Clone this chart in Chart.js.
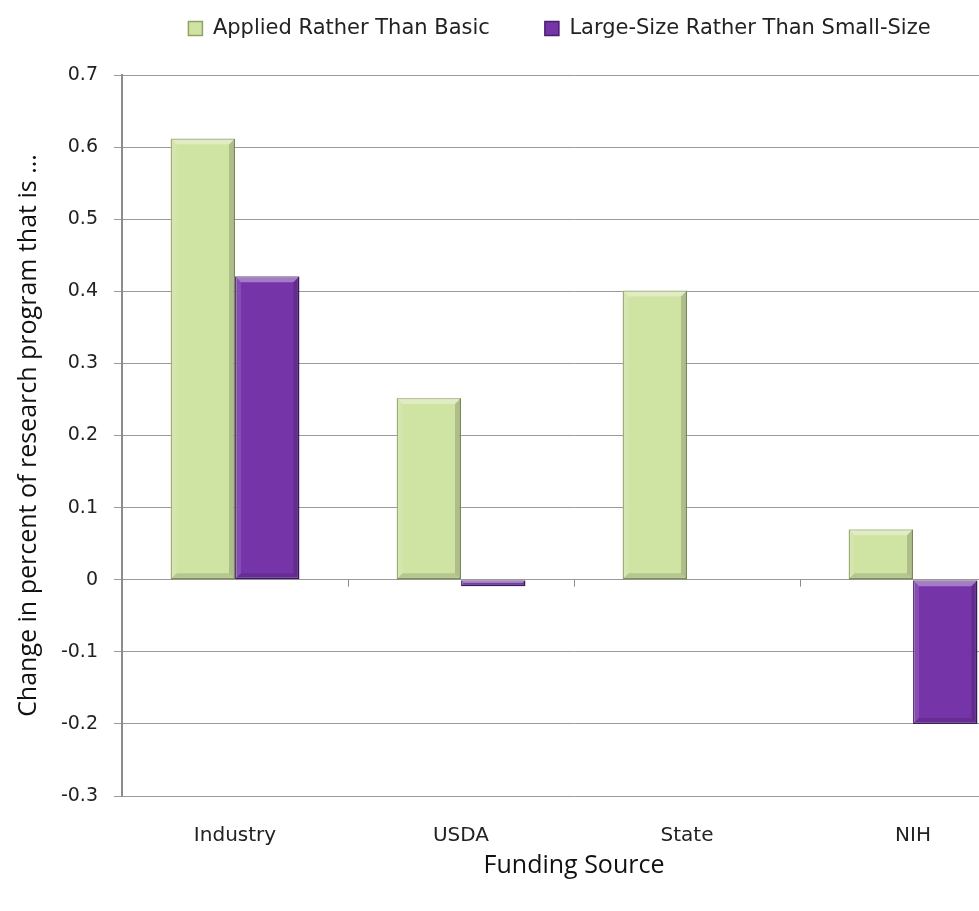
<!DOCTYPE html>
<html>
<head>
<meta charset="utf-8">
<script src="https://cdn.jsdelivr.net/npm/chart.js@4/dist/chart.umd.min.js"></script>
<style>
html,body{margin:0;padding:0;background:#fff;overflow:hidden;width:979px;height:911px;}
#wrap{position:absolute;left:0;top:-37px;width:1111px;height:948px;}
</style>
</head>
<body>
<div id="wrap"><canvas id="c"></canvas></div>
<script>
const categories = ["Industry", "USDA", "State", "NIH"];
const appliedRatherThanBasic = [0.612, 0.252, 0.401, 0.07];
const largeRatherThanSmall = [0.421, -0.009, null, -0.2];
const yTickValues = [0.7, 0.6, 0.5, 0.4, 0.3, 0.2, 0.1, 0, -0.1, -0.2, -0.3];
const yTickLabels = ["0.7", "0.6", "0.5", "0.4", "0.3", "0.2", "0.1", "0", "-0.1", "-0.2", "-0.3"];

const tickFont = "'DejaVu Sans',sans-serif";
const titleFont = "'Open Sans','Noto Sans',sans-serif";

const legendGap = {
  id: 'legendGap',
  beforeInit(chart) {
    const lg = chart.legend;
    if (!lg) return;
    const orig = lg.fit;
    lg.fit = function () { orig.call(this); this.height += 26; };
  }
};

const zeroTicks = {
  id: 'zeroTicks',
  afterDatasetsDraw(chart) {
    const x = chart.scales.x, y = chart.scales.y, ctx = chart.ctx;
    const y0 = y.getPixelForValue(0);
    ctx.save();
    ctx.strokeStyle = '#8c8c8c';
    ctx.lineWidth = 1;
    for (let i = 1; i < categories.length; i++) {
      const px = Math.round((x.getPixelForValue(i - 1) + x.getPixelForValue(i)) / 2) + 0.5;
      ctx.beginPath();
      ctx.moveTo(px, y0);
      ctx.lineTo(px, y0 + 7);
      ctx.stroke();
    }
    ctx.restore();
  }
};

// Excel-like bevel on each bar, derived from the bar elements
const bevel = {
  id: 'bevel',
  afterDatasetsDraw(chart) {
    const ctx = chart.ctx;
    chart.data.datasets.forEach((ds, di) => {
      const meta = chart.getDatasetMeta(di);
      meta.data.forEach((el, i) => {
        if (ds.data[i] === null || ds.data[i] === undefined) return;
        const p = el.getProps(['x', 'y', 'base', 'width'], true);
        const l = p.x - p.width / 2, r = p.x + p.width / 2;
        const t = Math.min(p.y, p.base), b = Math.max(p.y, p.base);
        const h = b - t;
        const d = Math.min(6, h / 2, p.width / 2);
        if (d < 1) return;
        ctx.save();
        ctx.fillStyle = 'rgba(255,255,255,0.35)';
        ctx.beginPath();
        ctx.moveTo(l, t); ctx.lineTo(r, t); ctx.lineTo(r - d, t + d); ctx.lineTo(l + d, t + d); ctx.closePath();
        ctx.fill();
        ctx.fillStyle = 'rgba(255,255,255,0.12)';
        ctx.beginPath();
        ctx.moveTo(l, t); ctx.lineTo(l + d, t + d); ctx.lineTo(l + d, b - d); ctx.lineTo(l, b); ctx.closePath();
        ctx.fill();
        ctx.fillStyle = 'rgba(0,0,0,0.16)';
        ctx.beginPath();
        ctx.moveTo(r, t); ctx.lineTo(r, b); ctx.lineTo(r - d, b - d); ctx.lineTo(r - d, t + d); ctx.closePath();
        ctx.fill();
        ctx.fillStyle = 'rgba(0,0,0,0.12)';
        ctx.beginPath();
        ctx.moveTo(l, b); ctx.lineTo(r, b); ctx.lineTo(r - d, b - d); ctx.lineTo(l + d, b - d); ctx.closePath();
        ctx.fill();
        ctx.restore();
      });
    });
  }
};

new Chart(document.getElementById('c'), {
  type: 'bar',
  data: {
    labels: categories,
    datasets: [
      {
        label: 'Applied Rather Than Basic',
        data: appliedRatherThanBasic,
        backgroundColor: '#cfe3a3',
        borderColor: '#8fa364',
        borderWidth: 1.5,
        borderSkipped: false
      },
      {
        label: 'Large-Size Rather Than Small-Size',
        data: largeRatherThanSmall,
        backgroundColor: '#7535a8',
        borderColor: '#4a1d6e',
        borderWidth: 1.5,
        borderSkipped: false
      }
    ]
  },
  options: {
    responsive: true,
    maintainAspectRatio: false,
    animation: false,
    layout: { padding: { left: 8, right: 0, top: 0, bottom: 30 } },
    datasets: { bar: { categoryPercentage: 0.57, barPercentage: 1.0 } },
    plugins: {
      legend: {
        position: 'top',
        align: 'center',
        labels: {
          font: { family: tickFont, size: 21 },
          color: '#222',
          boxWidth: 14,
          boxHeight: 14,
          padding: 55
        }
      },
      tooltip: { enabled: false }
    },
    scales: {
      x: {
        grid: { display: false, drawTicks: false },
        border: { display: false },
        ticks: { font: { family: tickFont, size: 20 }, color: '#222', padding: 28 },
        title: { display: true, text: 'Funding Source', font: { family: titleFont, size: 25 }, color: '#111', padding: { top: -25, bottom: 0 } }
      },
      y: {
        min: -0.3,
        max: 0.7,
        afterBuildTicks(scale) { scale.ticks = yTickValues.map(v => ({ value: v })); },
        afterFit(scale) { scale.width = 114; },
        grid: { color: '#9a9a9a', lineWidth: 1, tickLength: 8, drawTicks: true },
        border: { display: true, color: '#8c8c8c', width: 2 },
        ticks: {
          font: { family: tickFont, size: 19 },
          color: '#222',
          padding: 16,
          callback(value) {
            const i = yTickValues.findIndex(v => Math.abs(v - value) < 1e-9);
            return i >= 0 ? yTickLabels[i] : '';
          }
        },
        title: { display: true, text: 'Change in percent of research program that is ...', font: { family: titleFont, size: 25 }, color: '#111', padding: { top: 6, bottom: 4 } }
      },
      y2: {
        position: 'right',
        min: -0.3,
        max: 0.7,
        grid: { display: false, drawTicks: false },
        border: { display: false },
        ticks: { display: false },
        afterFit(scale) { scale.width = 85; }
      }
    }
  },
  plugins: [legendGap, zeroTicks, bevel]
});
</script>
</body>
</html>
